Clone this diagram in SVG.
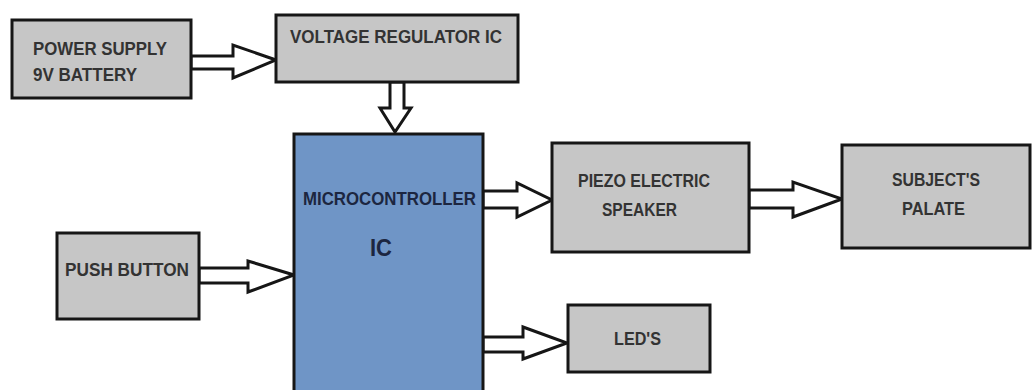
<svg xmlns="http://www.w3.org/2000/svg" width="1036" height="390" viewBox="0 0 1036 390">
<style>
.box{fill:#c6c6c6;stroke:#161616;stroke-width:3}
.mcu{fill:#6f95c6;stroke:#161616;stroke-width:3}
.arr{fill:#ffffff;stroke:#161616;stroke-width:3;stroke-linejoin:miter}
text{font-family:"Liberation Sans",Arial,sans-serif;font-weight:bold;font-size:18px;fill:#333333}
.dk{fill:#1c2640}
</style>
<rect width="1036" height="390" fill="#ffffff"/>
<g id="connectors">
<polygon class="arr" points="191,56 233,56 233,45 276,60 233,78 233,69 191,69"/>
<polygon class="arr" points="390,82 404,82 404,108 411,108 395,132 380,108 390,108"/>
<polygon class="arr" points="483,191 517,191 517,183 552,200 517,217 517,208 483,208"/>
<polygon class="arr" points="749,190 793,190 793,182 842,199 793,217 793,208 749,208"/>
<polygon class="arr" points="199,268 248,268 248,261 294,275 248,292 248,283 199,283"/>
<polygon class="arr" points="483,337 523,337 523,327 567,343 523,359 523,352 483,352"/>
</g>
<g id="power">
<rect class="box" x="12" y="20" width="179" height="78"/>
<text x="33" y="55" textLength="134" lengthAdjust="spacingAndGlyphs">POWER SUPPLY</text>
<text x="33" y="81" textLength="104" lengthAdjust="spacingAndGlyphs">9V BATTERY</text>
</g>
<g id="regulator">
<rect class="box" x="276" y="15" width="242" height="67"/>
<text x="290" y="43" textLength="212" lengthAdjust="spacingAndGlyphs">VOLTAGE REGULATOR IC</text>
</g>
<g id="mcu">
<rect class="mcu" x="294" y="134" width="189" height="270"/>
<text class="dk" x="303" y="205" style="font-size:19px" textLength="173" lengthAdjust="spacingAndGlyphs">MICROCONTROLLER</text>
<text class="dk" x="370" y="256" style="font-size:24px" textLength="22" lengthAdjust="spacingAndGlyphs">IC</text>
</g>
<g id="piezo">
<rect class="box" x="552" y="143" width="197" height="109"/>
<text x="578" y="187" textLength="132" lengthAdjust="spacingAndGlyphs">PIEZO ELECTRIC</text>
<text x="602" y="216" textLength="75" lengthAdjust="spacingAndGlyphs">SPEAKER</text>
</g>
<g id="subject">
<rect class="box" x="842" y="145" width="188" height="103"/>
<text x="892" y="186" textLength="88" lengthAdjust="spacingAndGlyphs">SUBJECT'S</text>
<text x="902" y="215" textLength="63" lengthAdjust="spacingAndGlyphs">PALATE</text>
</g>
<g id="pushbutton">
<rect class="box" x="57" y="233" width="142" height="86"/>
<text x="65" y="276" textLength="124" lengthAdjust="spacingAndGlyphs">PUSH BUTTON</text>
</g>
<g id="leds">
<rect class="box" x="568" y="305" width="142" height="67"/>
<text x="614" y="345" textLength="47" lengthAdjust="spacingAndGlyphs">LED'S</text>
</g>
</svg>
